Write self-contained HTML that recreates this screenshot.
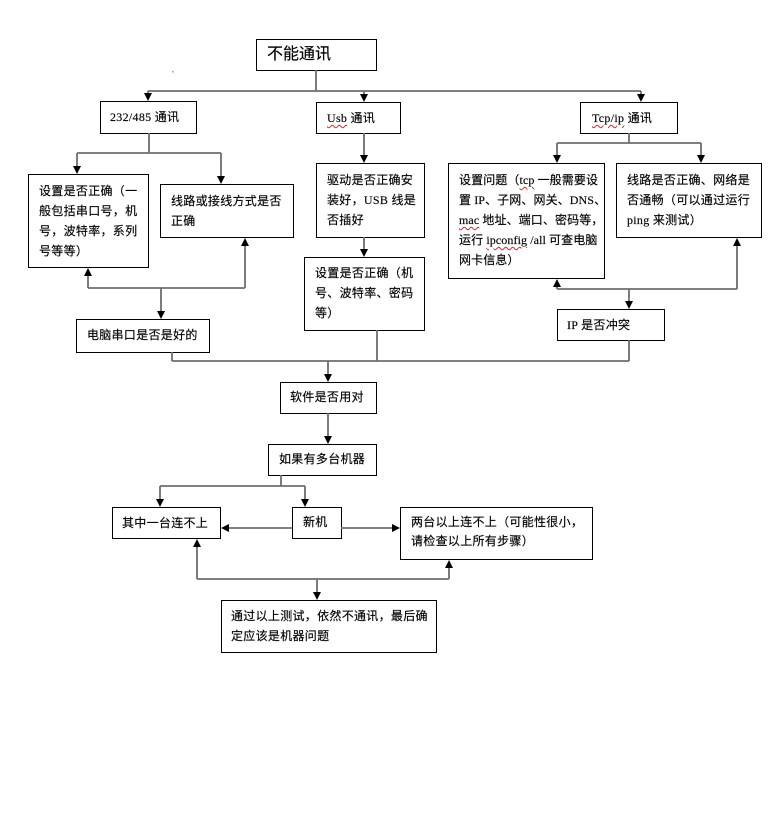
<!DOCTYPE html>
<html><head><meta charset="utf-8">
<style>
html,body{margin:0;padding:0;background:#fff;}
body{width:784px;height:840px;position:relative;overflow:hidden;}
.b{position:absolute;border:1px solid #000;box-sizing:border-box;background:#fff;}
.t{position:absolute;font-family:"Liberation Serif","Noto Sans CJK SC",serif;font-size:12px;line-height:20px;letter-spacing:0.3px;color:#000;white-space:nowrap;-webkit-text-stroke:0.15px #000;}
.w{text-decoration:underline wavy #d22;text-decoration-thickness:1px;text-underline-offset:2px;}
svg{position:absolute;left:0;top:0;}
</style></head><body>
<!-- boxes -->
<div class="b" style="left:256px;top:39px;width:121px;height:32px"></div>
<div class="b" style="left:100px;top:101px;width:97px;height:33px"></div>
<div class="b" style="left:316px;top:102px;width:85px;height:32px"></div>
<div class="b" style="left:580px;top:102px;width:98px;height:32px"></div>
<div class="b" style="left:28px;top:174px;width:121px;height:94px"></div>
<div class="b" style="left:160px;top:184px;width:134px;height:54px"></div>
<div class="b" style="left:316px;top:163px;width:109px;height:75px"></div>
<div class="b" style="left:304px;top:257px;width:121px;height:74px"></div>
<div class="b" style="left:448px;top:163px;width:157px;height:116px"></div>
<div class="b" style="left:616px;top:163px;width:146px;height:75px"></div>
<div class="b" style="left:76px;top:319px;width:134px;height:34px"></div>
<div class="b" style="left:557px;top:309px;width:108px;height:32px"></div>
<div class="b" style="left:280px;top:382px;width:97px;height:32px"></div>
<div class="b" style="left:268px;top:444px;width:109px;height:32px"></div>
<div class="b" style="left:112px;top:507px;width:109px;height:32px"></div>
<div class="b" style="left:292px;top:507px;width:50px;height:32px"></div>
<div class="b" style="left:400px;top:507px;width:193px;height:53px"></div>
<div class="b" style="left:221px;top:600px;width:216px;height:53px"></div>

<svg width="784" height="840" viewBox="0 0 784 840">
<g stroke="#6e6e6e" stroke-width="1.8" fill="none">
<path d="M316 70V91 M148 91H641 M148 91V95 M364 91V96 M641 91V96"/>
<path d="M149 133V153 M77 153H221 M77 153V168 M221 153V178"/>
<path d="M88 288H245 M88 288V274 M245 288V244 M161 288V313 M172 352V361"/>
<path d="M364 133V157 M364 237V251 M377 330V361"/>
<path d="M629 133V143 M557 143H701 M557 143V157 M701 143V157"/>
<path d="M557 289H737 M557 289V285 M737 289V244 M629 289V303 M629 340V361"/>
<path d="M172 361H629 M328 361V376 M328 413V438"/>
<path d="M281 475V486 M160 486H305 M160 486V501 M305 486V501"/>
<path d="M292 528H227 M341 528H394"/>
<path d="M197 579H449 M197 579V545 M449 579V566 M317 579V594"/>
</g>
<g fill="#000">
<polygon points="144,93 152,93 148,101"/>
<polygon points="360,94 368,94 364,102"/>
<polygon points="637,94 645,94 641,102"/>
<polygon points="73,166 81,166 77,174"/>
<polygon points="217,176 225,176 221,184"/>
<polygon points="157,311 165,311 161,319"/>
<polygon points="360,155 368,155 364,163"/>
<polygon points="360,249 368,249 364,257"/>
<polygon points="553,155 561,155 557,163"/>
<polygon points="697,155 705,155 701,163"/>
<polygon points="625,301 633,301 629,309"/>
<polygon points="324,374 332,374 328,382"/>
<polygon points="324,436 332,436 328,444"/>
<polygon points="156,499 164,499 160,507"/>
<polygon points="301,499 309,499 305,507"/>
<polygon points="313,592 321,592 317,600"/>
<polygon points="84,276 92,276 88,268"/>
<polygon points="241,246 249,246 245,238"/>
<polygon points="553,287 561,287 557,279"/>
<polygon points="733,246 741,246 737,238"/>
<polygon points="193,547 201,547 197,539"/>
<polygon points="445,568 453,568 449,560"/>
<polygon points="229,524 229,532 221,528"/>
<polygon points="392,524 392,532 400,528"/>
</g>
<rect x="172" y="71" width="1.5" height="1.5" fill="#999"/>
</svg>

<!-- text -->
<div class="t" style="left:267px;top:45px;font-size:16px;letter-spacing:0">不能通讯</div>
<div class="t" style="left:110px;top:107px">232/485 通讯</div>
<div class="t" style="left:327px;top:108px"><span class="w">Usb</span> 通讯</div>
<div class="t" style="left:592px;top:108px"><span class="w">Tcp/ip</span> 通讯</div>
<div class="t" style="left:39px;top:181px">设置是否正确（一<br>般包括串口号，机<br>号，波特率，系列<br>号等等）</div>
<div class="t" style="left:171px;top:191px">线路或接线方式是否<br>正确</div>
<div class="t" style="left:327px;top:170px">驱动是否正确安<br>装好，USB 线是<br>否插好</div>
<div class="t" style="left:315px;top:263px">设置是否正确（机<br>号、波特率、密码<br>等）</div>
<div class="t" style="left:459px;top:170px;letter-spacing:0.1px">设置问题（<span class="w">tcp</span> 一般需要设<br>置 IP、子网、网关、DNS、<br><span class="w">mac</span> 地址、端口、密码等，<br>运行 <span class="w">ipconfig</span> /all 可查电脑<br>网卡信息）</div>
<div class="t" style="left:627px;top:170px">线路是否正确、网络是<br>否通畅（可以通过运行<br>ping 来测试）</div>
<div class="t" style="left:87px;top:325px">电脑串口是否是好的</div>
<div class="t" style="left:567px;top:315px">IP 是否冲突</div>
<div class="t" style="left:290px;top:387px">软件是否用对</div>
<div class="t" style="left:279px;top:449px">如果有多台机器</div>
<div class="t" style="left:122px;top:513px">其中一台连不上</div>
<div class="t" style="left:303px;top:512px">新机</div>
<div class="t" style="left:411px;top:513px;line-height:19px">两台以上连不上（可能性很小，<br>请检查以上所有步骤）</div>
<div class="t" style="left:231px;top:606px">通过以上测试，依然不通讯，最后确<br>定应该是机器问题</div>
</body></html>
